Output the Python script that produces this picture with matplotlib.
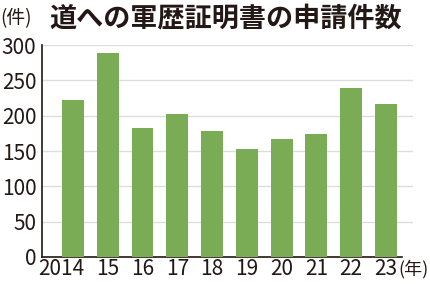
import matplotlib.pyplot as plt
from matplotlib.transforms import ScaledTranslation

plt.rcParams['font.family'] = ['Noto Sans CJK JP', 'DejaVu Sans']

# data
years = ['2014', '15', '16', '17', '18', '19', '20', '21', '22', '23']
counts = [222, 288, 183, 202, 178, 153, 167, 174, 239, 216]

bar_color = '#7aab55'
text_color = '#231815'

fig = plt.figure(figsize=(4.3, 2.84), dpi=100)
ax = fig.add_axes([0.0977, 0.0951, 0.8628, 0.7464])

x = list(range(len(years)))
ax.bar(x, counts, width=0.63, color=bar_color, zorder=3)

ax.set_xlim(-0.89, 9.78)
ax.set_ylim(0, 300)
ax.set_yticks([0, 50, 100, 150, 200, 250, 300])
ax.grid(axis='y', color='#dddddd', linewidth=1, zorder=0)
ax.set_xticks(x)
ax.set_xticklabels(years)
ax.tick_params(axis='both', length=0, labelsize=15, colors=text_color)
ax.tick_params(axis='y', pad=4)
ax.tick_params(axis='x', pad=1)

# first label sits a bit to the left so it doesn't crowd "15"
first = ax.get_xticklabels()[0]
first.set_transform(first.get_transform() + ScaledTranslation(-0.12, 0, fig.dpi_scale_trans))

for side in ['top', 'right']:
    ax.spines[side].set_visible(False)
for side in ['left', 'bottom']:
    ax.spines[side].set_color(text_color)
    ax.spines[side].set_linewidth(1.2)
ax.spines['bottom'].set_bounds(-0.89, 9.46)

ax.text(9.36, -4, '(年)', fontsize=13, color=text_color, ha='left', va='top')

fig.text(0.0, 0.935, '(件)', fontsize=13.5, color=text_color, ha='left', va='center')
fig.text(0.115, 0.935, '道への軍歴証明書の申請件数', fontsize=19.5, fontweight='bold',
         color=text_color, ha='left', va='center')

fig.savefig('out.png', dpi=100)
